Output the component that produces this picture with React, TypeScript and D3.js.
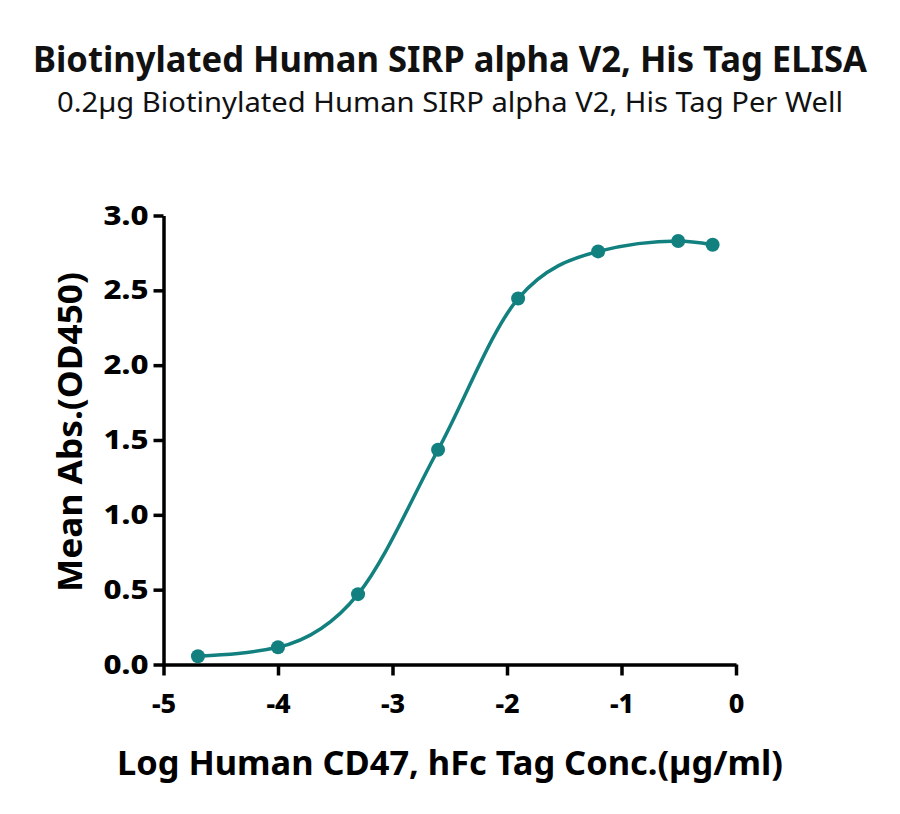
import { useEffect, useRef } from "react"
import * as d3 from "d3"

// log concentration (µg/ml) and mean absorbance
const logConc = [-4.699, -4.0, -3.301, -2.602, -1.903, -1.204, -0.505, -0.204]
const meanAbs = [0.055, 0.115, 0.47, 1.435, 2.445, 2.76, 2.83, 2.805]

const xTicks = [-5, -4, -3, -2, -1, 0]
const yTicks = [0, 0.5, 1.0, 1.5, 2.0, 2.5, 3.0]

const TITLE = "Biotinylated Human SIRP alpha V2, His Tag ELISA"
const SUBTITLE = "0.2µg Biotinylated Human SIRP alpha V2, His Tag Per Well"
const X_LABEL = "Log Human CD47, hFc Tag Conc.(µg/ml)"
const Y_LABEL = "Mean Abs.(OD450)"

const TEAL = "#138080"
const FONT = "'Noto Sans', 'Open Sans', sans-serif"

export default function App() {
  const ref = useRef<SVGSVGElement>(null)

  useEffect(() => {
    if (!ref.current) return
    const svg = d3.select(ref.current)
    svg.selectAll("*").remove()

    const x = d3.scaleLinear().domain([-5, 0]).range([163.5, 736])
    const y = d3.scaleLinear().domain([0, 3]).range([664.5, 215.5])

    svg.append("rect").attr("width", 900).attr("height", 814).attr("fill", "#fff")

    // titles
    svg.append("text")
      .attr("x", 450).attr("y", 72)
      .attr("text-anchor", "middle")
      .attr("font-family", FONT).attr("font-weight", 700).attr("font-size", 35)
      .attr("textLength", 834).attr("lengthAdjust", "spacingAndGlyphs")
      .attr("fill", "#111")
      .text(TITLE)

    svg.append("text")
      .attr("x", 450).attr("y", 112)
      .attr("text-anchor", "middle")
      .attr("font-family", FONT).attr("font-weight", 400).attr("font-size", 27)
      .attr("textLength", 786).attr("lengthAdjust", "spacingAndGlyphs")
      .attr("fill", "#111")
      .text(SUBTITLE)

    // axes
    const xAxis = svg.append("g")
      .attr("transform", `translate(0,${y(0)})`)
      .call(d3.axisBottom(x).tickValues(xTicks).tickSize(11).tickSizeOuter(0).tickPadding(18)
        .tickFormat((d) => String(d)))
    const yAxis = svg.append("g")
      .attr("transform", `translate(${x(-5)},0)`)
      .call(d3.axisLeft(y).tickValues(yTicks).tickSize(10).tickSizeOuter(0).tickPadding(5)
        .tickFormat(d3.format(".1f")))

    for (const g of [xAxis, yAxis]) {
      g.select(".domain").attr("stroke", "#000").attr("stroke-width", 3.5)
      g.selectAll(".tick line").attr("stroke", "#000").attr("stroke-width", 3.5)
      g.selectAll(".tick text")
        .attr("font-family", FONT).attr("font-weight", 800).attr("font-size", 27)
        .attr("fill", "#000")
    }
    yAxis.selectAll(".tick text").attr("textLength", 45).attr("lengthAdjust", "spacingAndGlyphs")

    // axis titles
    svg.append("text")
      .attr("x", 450).attr("y", 775)
      .attr("text-anchor", "middle")
      .attr("font-family", FONT).attr("font-weight", 700).attr("font-size", 34)
      .attr("textLength", 666).attr("lengthAdjust", "spacingAndGlyphs")
      .attr("fill", "#000")
      .text(X_LABEL)

    svg.append("text")
      .attr("transform", `translate(82,432) rotate(-90)`)
      .attr("text-anchor", "middle")
      .attr("font-family", FONT).attr("font-weight", 700).attr("font-size", 34)
      .attr("textLength", 320).attr("lengthAdjust", "spacingAndGlyphs")
      .attr("fill", "#000")
      .text(Y_LABEL)

    // curve and points
    const pts = logConc.map((c, i) => [c, meanAbs[i]] as [number, number])
    const line = d3.line<[number, number]>()
      .x((d) => x(d[0]))
      .y((d) => y(d[1]))
      .curve(d3.curveMonotoneX)

    svg.append("path")
      .datum(pts)
      .attr("d", line)
      .attr("fill", "none")
      .attr("stroke", TEAL)
      .attr("stroke-width", 3.5)

    svg.append("g")
      .selectAll("circle")
      .data(pts)
      .join("circle")
      .attr("cx", (d) => x(d[0]))
      .attr("cy", (d) => y(d[1]))
      .attr("r", 7)
      .attr("fill", TEAL)
  }, [])

  return (
    <div style={{ position: "absolute", left: 0, top: 0 }}>
      <svg ref={ref} width={900} height={814} style={{ display: "block" }} />
    </div>
  )
}
